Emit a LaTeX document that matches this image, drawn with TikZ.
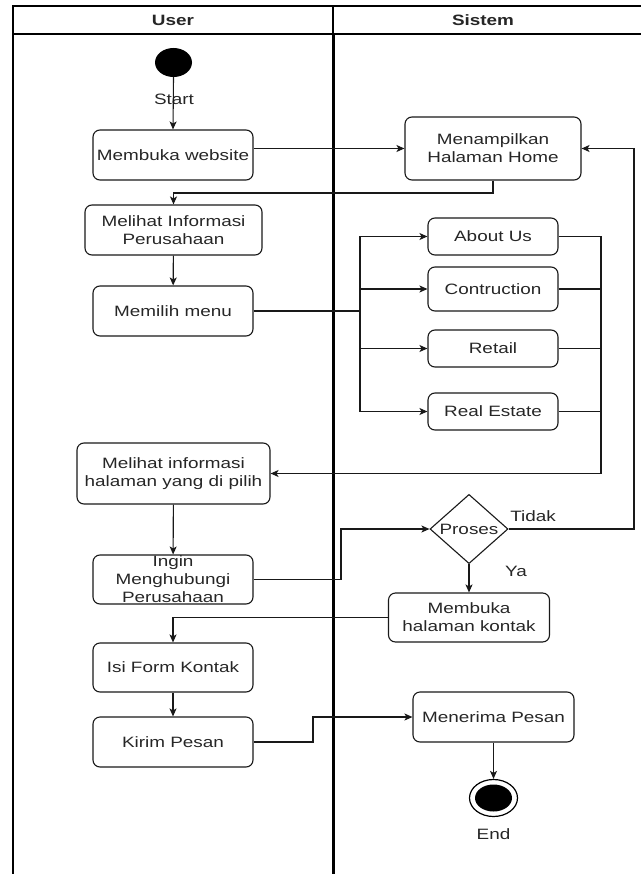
\documentclass[tikz,border=0pt]{standalone}
\usepackage{fontspec}
\setmainfont{Liberation Sans}[FakeStretch=1.26]
\usetikzlibrary{arrows.meta,shapes.geometric}

\begin{document}
\begin{tikzpicture}[x=1pt,y=-1pt,
  every node/.style={font=\fontsize{15}{18}\selectfont, text=black!85},
  act/.style={draw=black!90, line width=1.1pt, rounded corners=7pt, align=center, inner sep=0pt},
  decision/.style={draw=black!90, line width=1.1pt, diamond, inner sep=0pt},
  flow/.style={draw=black!90, line width=1.1pt, -{Stealth[length=8pt,width=7pt,inset=2pt]}},
  link/.style={draw=black!90, line width=1.1pt},
  lane/.style={draw=black, line width=1.4pt},
  head/.style={font=\bfseries\fontsize{15}{18}\selectfont},
]
\useasboundingbox (0,0) rectangle (641,874);

% swimlane frame
\draw[lane] (13,874) -- (13,6) -- (641,6);
\draw[lane] (13,34) -- (641,34);
\draw[lane] (333,6) -- (333,34);
\draw[black, line width=3pt] (333,34) -- (333,874);
\node[head] (hUser) at (173,20) {User};
\node[head] (hSys) at (483,20) {Sistem};

% user lane
\node[ellipse, fill=black, minimum width=37pt, minimum height=29pt, inner sep=0pt] (start) at (173.5,62.5) {};
\node (startlbl) at (174,99) {Start};
\node[act, minimum width=160pt, minimum height=50pt] (web) at (173,155) {Membuka website};
\node[act, minimum width=177pt, minimum height=50pt] (info) at (173.5,230) {Melihat Informasi\\Perusahaan};
\node[act, minimum width=160pt, minimum height=50pt] (menu) at (173,311) {Memilih menu};
\node[act, minimum width=193pt, minimum height=61pt] (seen) at (173.5,473.5) {Melihat informasi\\halaman yang di pilih};
\node[act, minimum width=160pt, minimum height=49pt] (ingin) at (173,579.5) {Ingin\\Menghubungi\\Perusahaan};
\node[act, minimum width=160pt, minimum height=49pt] (form) at (173,667.5) {Isi Form Kontak};
\node[act, minimum width=160pt, minimum height=50pt] (send) at (173,742) {Kirim Pesan};

% system lane
\node[act, minimum width=176pt, minimum height=63pt] (home) at (493,148.5) {Menampilkan\\Halaman Home};
\node[act, minimum width=130pt, minimum height=37pt] (about) at (493,236.5) {About Us};
\node[act, minimum width=130pt, minimum height=44pt] (constr) at (493,289) {Contruction};
\node[act, minimum width=130pt, minimum height=37pt] (retail) at (493,348.5) {Retail};
\node[act, minimum width=130pt, minimum height=37pt] (real) at (493,411.5) {Real Estate};
\node[decision, minimum width=78pt, minimum height=62pt] (dec) at (469,529) {Proses};
\node (tidak) at (533,516) {Tidak};
\node (ya) at (516,571) {Ya};
\node[act, minimum width=161pt, minimum height=49pt] (contact) at (469,617.5) {Membuka\\halaman kontak};
\node[act, minimum width=161pt, minimum height=50pt] (recv) at (493.5,717) {Menerima Pesan};
\node[ellipse, draw=black, line width=1.2pt, minimum width=48pt, minimum height=37pt, inner sep=0pt] (endout) at (493.5,798) {};
\node[ellipse, fill=black, minimum width=37pt, minimum height=27pt, inner sep=0pt] (endin) at (493.5,798) {};
\node (endlbl) at (493.5,834) {End};

% junction points of the routed connectors
\coordinate (busL) at (360,311);
\coordinate (busR) at (601,473.5);
\coordinate (kink1) at (341,579.5);
\coordinate (kink2) at (634,148.5);
\coordinate (kink3) at (313,742);

% connectors
\draw[flow] (start.south) -- (web.north);
\draw[flow] (web.east |- home.west) -- (home.west);
\draw[flow] (home.south) |- (info.north |- 0,193) -- (info.north);
\draw[flow] (info) -- (menu);
\draw[link] (menu.east) -- (busL);
\draw[link] (busL |- about.west) -- (busL |- real.west);
\foreach \n in {about,constr,retail,real}{
  \draw[flow] (busL |- \n.west) -- (\n.west);
  \draw[link] (\n.east) -- (busR |- \n.east);
}
\draw[flow] (busR |- about.east) -- (busR) -- (seen.east);
\draw[flow] (seen) -- (ingin);
\draw[flow] (ingin.east) -- (kink1) |- (dec.west);
\draw[flow] (dec.east) -| (kink2) -- (home.east);
\draw[flow] (dec.south) -- (contact.north);
\draw[flow] (contact.west) -| (form.north);
\draw[flow] (form) -- (send);
\draw[flow] (send.east) -- (kink3) |- (recv.west);
\draw[flow] (recv.south) -- (endout.north);
\end{tikzpicture}
\end{document}
